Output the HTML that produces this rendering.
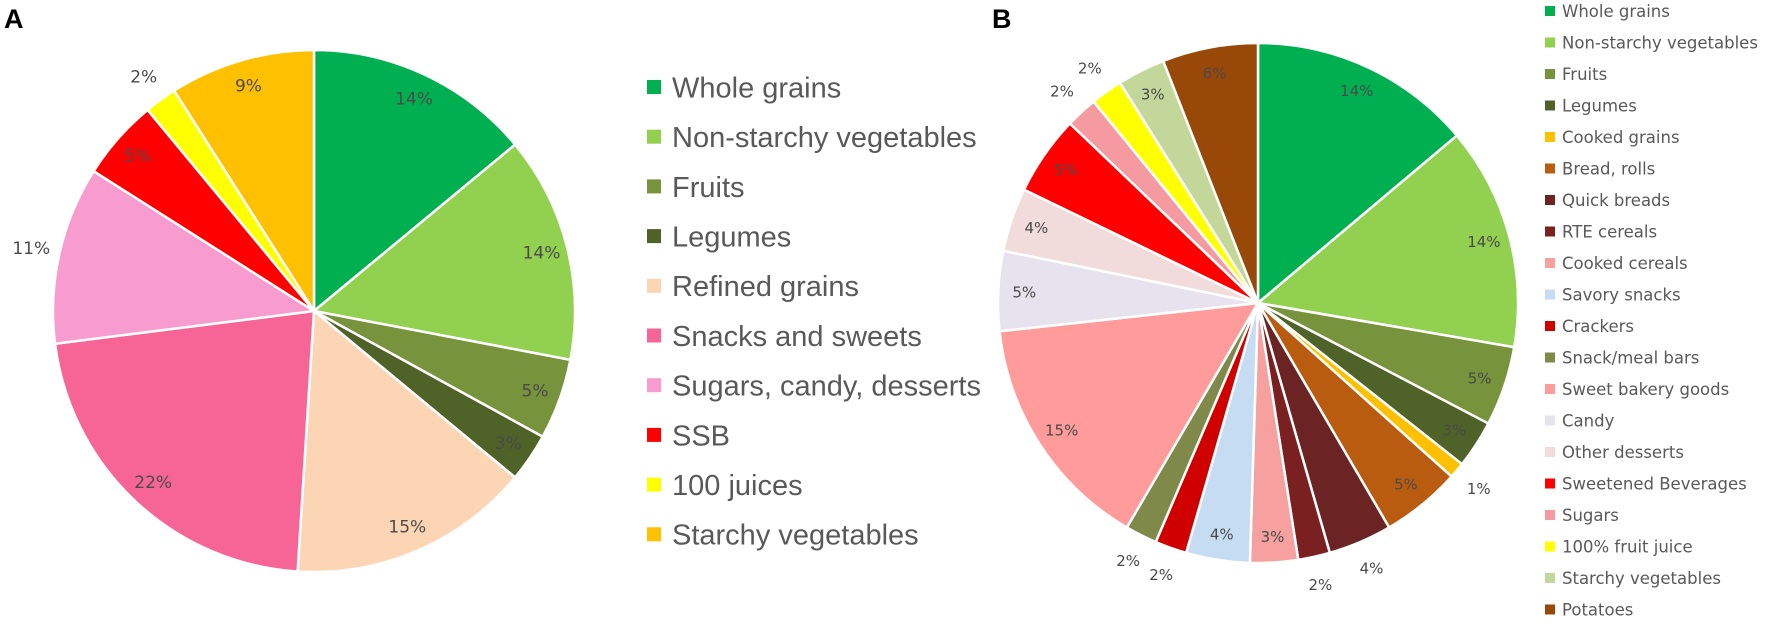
<!DOCTYPE html>
<html><head><meta charset="utf-8"><style>
html,body{margin:0;padding:0;background:#fff;}
svg{display:block;}
</style></head><body>
<svg id="chart" width="1772" height="625" viewBox="0 0 1772 625" xmlns="http://www.w3.org/2000/svg">
<text x="4" y="28" font-family="Liberation Sans, sans-serif" font-weight="bold" font-size="27" fill="#000">A</text>
<text x="992" y="28" font-family="Liberation Sans, sans-serif" font-weight="bold" font-size="27" fill="#000">B</text>
<g id="pieA"></g>
<g id="legA"></g>
<g id="pieB"></g>
<g id="legB"></g>
</svg>
<script>
const catsA = ["Whole grains","Non-starchy vegetables","Fruits","Legumes","Refined grains","Snacks and sweets","Sugars, candy, desserts","SSB","100 juices","Starchy vegetables"];
const valsA = [14,14,5,3,15,22,11,5,2,9];
const colorsA = ["#00b050","#92d050","#77933c","#4f6228","#fcd5b5","#f76496","#f89bcf","#ff0000","#ffff00","#ffc000"];
const outsideA = [false,false,false,false,false,false,true,false,true,false];

const catsB = ["Whole grains","Non-starchy vegetables","Fruits","Legumes","Cooked grains","Bread, rolls","Quick breads","RTE cereals","Cooked cereals","Savory snacks","Crackers","Snack/meal bars","Sweet bakery goods","Candy","Other desserts","Sweetened Beverages","Sugars","100% fruit juice","Starchy vegetables","Potatoes"];
const valsB = [14,14,5,3,1,5,4,2,3,4,2,2,15,5,4,5,2,2,3,6];
const colorsB = ["#00b050","#92d050","#77933c","#4f6228","#ffc000","#b95c0f","#6b2323","#7b2020","#f7a0a0","#c6dcf2","#d00000","#7f8a4a","#ff9b9b","#e6e2ee","#f2dcdb","#ff0000","#f59aa0","#ffff00","#c4d79b","#984807"];
const outsideB = [false,false,false,false,true,false,true,true,false,false,true,true,false,false,false,false,true,true,false,false];

const NS="http://www.w3.org/2000/svg";
function mk(tag, attrs, parent){const e=document.createElementNS(NS,tag);for(const k in attrs)e.setAttribute(k,attrs[k]);parent.appendChild(e);return e;}
function angle(frac){return frac*2*Math.PI;}
function pt(cx,cy,r,a){return [cx+r*Math.sin(a), cy-r*Math.cos(a)];}

function drawPie(g, cats, vals, colors, outside, cx, cy, r, fs, ff, prefix){
  const total = vals.reduce((a,b)=>a+b,0);
  let acc=0;
  vals.forEach((v,i)=>{
    const a0=angle(acc/total), a1=angle((acc+v)/total);
    const [x0,y0]=pt(cx,cy,r,a0), [x1,y1]=pt(cx,cy,r,a1);
    const large=(a1-a0)>Math.PI?1:0;
    const p=mk('path',{d:`M${cx},${cy} L${x0},${y0} A${r},${r} 0 ${large} 1 ${x1},${y1} Z`,fill:colors[i],stroke:'#fff','stroke-width':2.5,'stroke-linejoin':'round'},g);
    
    
    const am=(a0+a1)/2;
    const lr = outside[i]? r*1.11 : r*0.9;
    const [lx,ly]=pt(cx,cy,lr,am);
    const t=mk('text',{x:lx,y:ly+fs*0.35,'text-anchor':'middle','font-family':ff,'font-size':fs,fill:'#4a4a4a'},g);
    t.textContent=v+'%';
    
    
    acc+=v;
  });
}
drawPie(document.getElementById('pieA'), catsA, valsA, colorsA, outsideA, 314, 311, 261, 17, '"DejaVu Sans", sans-serif', 'a');
drawPie(document.getElementById('pieB'), catsB, valsB, colorsB, outsideB, 1258, 303, 260, 15, '"DejaVu Sans", sans-serif', 'b');

function drawLegend(g, cats, colors, mx, tx, y0, dy, sz, fs, ff, sx, prefix){
  cats.forEach((c,i)=>{
    const y=y0+i*dy;
    const item=mk('g',{},g);
    
    
    mk('rect',{x:mx,y:y-sz/2,width:sz,height:sz,fill:colors[i]},item);
    const t=mk('text',{x:0,y:0,transform:`translate(${tx},${y+fs*0.36}) scale(${sx},1)`,'font-family':ff,'font-size':fs,fill:'#595959'},item);
    t.textContent=c;
  });
}
drawLegend(document.getElementById('legA'), catsA, colorsA, 647, 672, 87, 49.7, 14, 29, '"Liberation Sans", sans-serif', 1.0, 'a');
drawLegend(document.getElementById('legB'), catsB, colorsB, 1545, 1562, 11, 31.5, 10, 16.5, '"DejaVu Sans", sans-serif', 1, 'b');
</script>
</body></html>
